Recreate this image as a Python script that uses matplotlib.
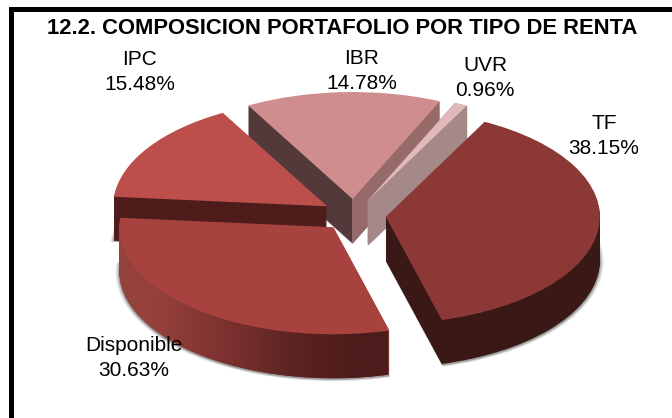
import numpy as np
import matplotlib
matplotlib.use('Agg')
import matplotlib.pyplot as plt
from matplotlib.path import Path
from matplotlib.patches import Rectangle

# data
labels = ['TF', 'Disponible', 'IPC', 'IBR', 'UVR']
shares = [38.15, 30.63, 15.48, 14.78, 0.96]
title = '12.2. COMPOSICION PORTAFOLIO POR TIPO DE RENTA'

# look of each slice
top_colors = ['#8B3836', '#A8423F', '#BC4F4B', '#CF8E8D', '#E2B9B9']
side_colors = ['#3A1816', '#7A302E', '#4E1D1B', '#54393A', '#A58888']
draw_order = [3, 4, 2, 0, 1]  # back to front

plt.rcParams['font.family'] = ['Liberation Sans', 'DejaVu Sans']

W, H = 672, 418
SQUASH = 2  # y data units per pixel, tilts the pie
cx, cy = 354, (H - 215) * SQUASH
R = 214
EXPLODE = 32
DEPTH = 44
START = 62.5

fig = plt.figure(figsize=(W / 100, H / 100), dpi=100)
ax = fig.add_axes([0, 0, 1, 1])


def pie_at(dy, colors, radius=R):
    wedges, _ = ax.pie(shares, explode=[EXPLODE] * len(shares), colors=colors,
                       startangle=START, counterclock=False, radius=radius,
                       center=(cx, cy - dy * SQUASH), wedgeprops={'linewidth': 0})
    return wedges


# soft shadow under the pie
for grow, alpha in [(4, 0.06), (3, 0.08), (2, 0.12), (1, 0.18)]:
    for i, w in enumerate(pie_at(DEPTH + 1, ['#000000'] * 5, R + grow)):
        w.set_alpha(alpha)
        w.set_zorder(1 + draw_order.index(i) * 10)

# extruded sides: stack of the same pie going down
side_paths = [[] for s in shares]
for k in range(DEPTH, 0, -1):
    for i, w in enumerate(pie_at(k, side_colors)):
        w.set_zorder(2 + draw_order.index(i) * 10 + (DEPTH - k) / 100)
        side_paths[i].append(w.get_path().transformed(w.get_patch_transform()))
        # the UVR slice is so thin it washes out near the apex without an edge
        if labels[i] == 'UVR':
            w.set_edgecolor(side_colors[i])
            w.set_linewidth(1.2)

tops = pie_at(0, top_colors)
for i, w in enumerate(tops):
    w.set_zorder(5 + draw_order.index(i) * 10)


def shade_side(i, colors, x0, x1, interp):
    img = np.array([[matplotlib.colors.to_rgb(c) for c in colors]])
    im = ax.imshow(img, extent=[x0, x1, 0, H * SQUASH], aspect='auto', interpolation=interp,
                   zorder=3 + draw_order.index(i) * 10)
    im.set_clip_path(Path.make_compound_path(*side_paths[i]), ax.transData)


# Disponible fades to dark along the rim, IBR has two walls either side of its apex
shade_side(1, ['#96423C', '#7F3331', '#5F2523', '#4C1C1B'], 118, 388, 'bilinear')
ibr_apex = tops[3].center[0]
shade_side(3, ['#54393A', '#966A69'], 2 * ibr_apex - 460, 460, 'nearest')

ax.set_xlim(0, W)
ax.set_ylim(0, H * SQUASH)
ax.set_aspect('auto')
ax.axis('off')

# chart frame, only top and left are inside the picture
ax.add_patch(Rectangle((9, 0), 5, (H - 7) * SQUASH, fc='black', lw=0, zorder=100))
ax.add_patch(Rectangle((9, (H - 12) * SQUASH), W - 9, 5 * SQUASH, fc='black', lw=0, zorder=100))

fig.text(342.5 / W, 1 - 28 / H, title, ha='center', va='center', fontsize=15.8, fontweight='bold')

label_pos = [(604, 136), (134, 358), (140, 72), (362, 71), (485, 78)]
for name, share, (px, py) in zip(labels, shares, label_pos):
    fig.text(px / W, 1 - py / H, f'{name}\n{share:.2f}%', ha='center', va='center', fontsize=15,
             linespacing=1.42, zorder=200)

fig.savefig('out.png', dpi=100)
